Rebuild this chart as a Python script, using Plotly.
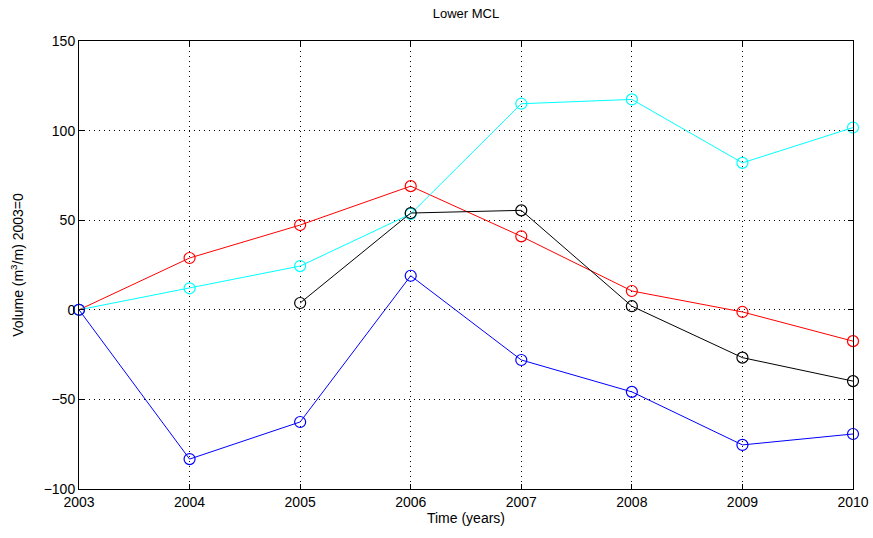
import plotly.graph_objects as go

years = [2003, 2004, 2005, 2006, 2007, 2008, 2009, 2010]
red = [0, 28.9, 47.3, 69, 41, 10.5, -1.2, -17.5]
cyan = [0, 12, 24.4, 53.5, 115, 117.4, 82, 101.7]
black_years = [2005, 2006, 2007, 2008, 2009, 2010]
black = [3.8, 54, 55.5, 2, -26.7, -39.8]
blue = [0, -83.3, -62.6, 19, -28, -45.8, -75.4, -69.3]
y_ticks = [-100, -50, 0, 50, 100, 150]

fig = go.Figure()
for x, y, c in [(years, red, "#ff0000"), (years, cyan, "#00ffff"),
                (black_years, black, "#000000"), (years, blue, "#0000ff")]:
    fig.add_trace(go.Scatter(x=x, y=y, mode="lines+markers",
                             line=dict(color=c, width=1),
                             marker=dict(symbol="circle-open", size=11,
                                         color=c, line=dict(width=1.2, color=c)),
                             showlegend=False, cliponaxis=False))

axis_common = dict(showline=True, linecolor="black", linewidth=1, mirror="allticks",
                   ticks="inside", ticklen=5, tickcolor="black", automargin=False,
                   showgrid=True, gridcolor="black", griddash="1px,4px", gridwidth=1,
                   zeroline=False, tickfont=dict(family="Liberation Sans", size=14, color="black"))

fig.update_xaxes(range=[2003, 2010], tickvals=years, title=dict(text="Time (years)",
                 font=dict(family="Liberation Sans", size=14, color="black"), standoff=4),
                 **axis_common)
fig.update_yaxes(range=[-100, 150], tickvals=y_ticks,
                 title=dict(text="Volume (m<sup>3</sup>/m) 2003=0",
                            font=dict(family="Liberation Sans", size=14, color="black"), standoff=16),
                 **axis_common)

fig.update_layout(width=873, height=538, paper_bgcolor="white", plot_bgcolor="white",
                  margin=dict(l=79, r=20, t=41, b=49),
                  title=dict(text="Lower MCL", x=0.5, xanchor="center", y=0.975, yanchor="middle",
                             xref="paper", automargin=False,
                             font=dict(family="Liberation Sans", size=13, color="black")))

fig.write_html("out.html")
